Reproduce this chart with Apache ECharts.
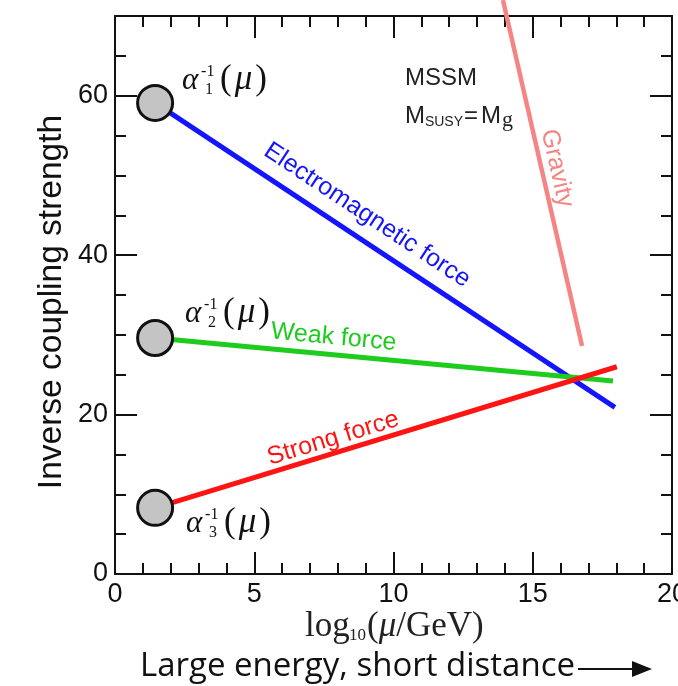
<!DOCTYPE html>
<html><head><meta charset="utf-8">
<script src="https://cdn.jsdelivr.net/npm/echarts@6/dist/echarts.min.js"></script>
<style>html,body{margin:0;padding:0;background:#fff}#main{width:678px;height:686px}</style>
</head><body><div id="main"></div>
<script>
// ---- data ----
const xTickValues = [0, 5, 10, 15, 20];
const yTickValues = [0, 20, 40, 60];
const emX = [1.44, 17.95];      const emY = [59.1, 20.9];
const weakX = [1.44, 17.88];    const weakY = [29.6, 24.2];
const strongX = [1.44, 18.02];  const strongY = [8.3, 26.0];
const gravX = [13.93, 16.77];   const gravY = [72.0, 28.6];
const circleX = [1.44, 1.44, 1.44];
const circleY = [59.1, 29.6, 8.3];
const circleSub = ['1', '2', '3'];
const forceNames = ['Electromagnetic force', 'Weak force', 'Strong force', 'Gravity'];
const forceLabelX = [9.05, 7.85, 7.83, 15.87];
const forceLabelY = [45.0, 29.7, 17.0, 50.9];

const FONT = 'Liberation Sans, Arial, sans-serif';
const SERIF = 'Liberation Serif, Times New Roman, serif';
const BLUE = '#1414ff', GREEN = '#1ecc1e', RED = '#ff1414', PINK = '#f58585', INK = '#111';

const zip = (xs, ys) => xs.map((x, i) => [x, ys[i]]);

function xAx(pos, showLabel) {
  return {
    type: 'value', min: 0, max: 20, interval: 5, position: pos,
    axisLine: { show: true, onZero: false, lineStyle: { color: INK, width: 2 } },
    axisTick: { show: true, inside: true, length: 22, lineStyle: { color: INK, width: 2 } },
    minorTick: { show: true, splitNumber: 5, length: 11, lineStyle: { color: INK, width: 2 } },
    axisLabel: { show: showLabel, fontSize: 27, color: INK, margin: 7, fontFamily: FONT,
      customValues: xTickValues, hideOverlap: false },
    splitLine: { show: false }, minorSplitLine: { show: false }
  };
}
function yAx(pos, interval, len, showLine, showLabel) {
  return {
    type: 'value', min: 0, max: 70, interval: interval, position: pos,
    axisLine: { show: showLine, onZero: false, lineStyle: { color: INK, width: 2 } },
    axisTick: { show: true, inside: true, length: len, lineStyle: { color: INK, width: 2 } },
    axisLabel: { show: showLabel, fontSize: 27, color: INK, margin: 7, fontFamily: FONT,
      customValues: yTickValues },
    splitLine: { show: false }
  };
}

const chart = echarts.init(document.getElementById('main'), null, { renderer: 'canvas' });
const option = {
  backgroundColor: '#fff',
  animation: false,
  grid: { left: 115, right: 6, top: 16, bottom: 112, containLabel: false, outerBoundsMode: 'none' },
  xAxis: [xAx('bottom', true), xAx('top', false)],
  yAxis: [
    yAx('left', 20, 22, true, true),
    yAx('left', 5, 11, false, false),
    yAx('right', 20, 22, true, false),
    yAx('right', 5, 11, false, false)
  ],
  series: [
    { type: 'line', data: zip(emX, emY), symbol: 'none', lineStyle: { color: BLUE, width: 5 }, z: 3 },
    { type: 'line', data: zip(weakX, weakY), symbol: 'none', lineStyle: { color: GREEN, width: 5 }, z: 3 },
    { type: 'line', data: zip(strongX, strongY), symbol: 'none', lineStyle: { color: RED, width: 5 }, z: 4 },
    { type: 'line', data: zip(gravX, gravY), symbol: 'none', clip: false, lineStyle: { color: PINK, width: 4.5 }, z: 2 },
    { type: 'scatter', data: zip(circleX, circleY), symbol: 'circle', symbolSize: 35,
      itemStyle: { color: '#c4c4c4', borderColor: INK, borderWidth: 3, opacity: 1 }, z: 6 }
  ]
};
chart.setOption(option);

const px = (x, y) => chart.convertToPixel({ xAxisIndex: 0, yAxisIndex: 0 }, [x, y]);
function angleOf(xs, ys) {
  const a = px(xs[0], ys[0]), b = px(xs[1], ys[1]);
  return -Math.atan2(b[1] - a[1], b[0] - a[0]);
}
const forceColors = [BLUE, GREEN, RED, PINK];
const forceAngles = [angleOf(emX, emY), angleOf(weakX, weakY), angleOf(strongX, strongY), angleOf(gravX, gravY)];

const g = [];
forceNames.forEach((t, i) => {
  const p = px(forceLabelX[i], forceLabelY[i]);
  g.push({ type: 'text', x: p[0], y: p[1], rotation: forceAngles[i], z: 10,
    style: { text: t, fill: forceColors[i], fontSize: 25, fontFamily: FONT, align: 'center', verticalAlign: 'middle' } });
});

// alpha labels
const alphaOff = [[27, -22], [30, -24], [31, 16]];
circleX.forEach((cx, i) => {
  const p = px(cx, circleY[i]);
  const ox = p[0] + alphaOff[i][0], oy = p[1] + alphaOff[i][1];
  g.push({ type: 'group', x: ox, y: oy, z: 10, children: [
    { type: 'text', x: 0, y: 0, style: { text: 'α', fill: INK, fontSize: 31, fontStyle: 'italic', fontFamily: SERIF, align: 'left', verticalAlign: 'middle' } },
    { type: 'text', x: 19, y: -9, style: { text: '-1', fill: INK, fontSize: 16, fontFamily: SERIF, align: 'left', verticalAlign: 'middle' } },
    { type: 'text', x: 23, y: 9, style: { text: circleSub[i], fill: INK, fontSize: 16, fontFamily: SERIF, align: 'left', verticalAlign: 'middle' } },
    { type: 'text', x: 35, y: -1, style: { text: '{p|(}{m|μ}{p|)}', fill: INK, align: 'left', verticalAlign: 'middle',
        rich: { p: { fontSize: 35, fontFamily: SERIF, fill: INK, padding: [0, 3, 0, 3] }, m: { fontSize: 35, fontStyle: 'italic', fontFamily: SERIF, fill: INK } } } }
  ] });
});

// MSSM annotation
const pm = px(10.41, 62.2);
g.push({ type: 'text', x: pm[0], y: pm[1], z: 10, style: { text: 'MSSM', fill: '#222', fontSize: 24, fontFamily: FONT, align: 'left', verticalAlign: 'middle' } });
const ps = px(10.41, 57.4);
g.push({ type: 'group', x: ps[0], y: ps[1], z: 10, children: [
  { type: 'text', x: 0, y: 0, style: { text: 'M', fill: '#222', fontSize: 24, fontFamily: FONT, align: 'left', verticalAlign: 'middle' } },
  { type: 'text', x: 20, y: 6, style: { text: 'SUSY', fill: '#222', fontSize: 14, fontFamily: FONT, align: 'left', verticalAlign: 'middle' } },
  { type: 'text', x: 59, y: 0, style: { text: '=', fill: '#222', fontSize: 24, fontFamily: FONT, align: 'left', verticalAlign: 'middle' } },
  { type: 'text', x: 76, y: 0, style: { text: 'M', fill: '#222', fontSize: 24, fontFamily: FONT, align: 'left', verticalAlign: 'middle' } },
  { type: 'text', x: 97, y: 4, style: { text: 'g', fill: '#222', fontSize: 22, fontFamily: SERIF, align: 'left', verticalAlign: 'middle' } }
] });

// axis names
const pa = px(0, 0), pt = px(0, 70);
g.push({ type: 'group', x: 305, y: 627, z: 10, children: [
  { type: 'text', x: 0, y: 0, style: { text: 'log', fill: '#222', fontSize: 35, fontFamily: SERIF, align: 'left', verticalAlign: 'middle' } },
  { type: 'text', x: 44, y: 9, style: { text: '10', fill: '#222', fontSize: 17, fontFamily: SERIF, align: 'left', verticalAlign: 'middle' } },
  { type: 'text', x: 62, y: 0, style: { text: '{p|(}{m|μ}{p|/GeV)}', fill: '#222', align: 'left', verticalAlign: 'middle',
      rich: { p: { fontSize: 35, fontFamily: SERIF, fill: '#222' }, m: { fontSize: 35, fontStyle: 'italic', fontFamily: SERIF, fill: '#222' } } } }
] });
g.push({ type: 'text', x: 52, y: (pa[1] + pt[1]) / 2 + 7, rotation: Math.PI / 2, z: 10,
  style: { text: 'Inverse coupling strength', fill: INK, fontSize: 33.5, fontFamily: FONT, align: 'center', verticalAlign: 'middle' } });
g.push({ type: 'text', x: 140, y: 667, z: 10,
  style: { text: 'Large energy, short distance', fill: INK, fontSize: 33, fontFamily: 'Open Sans, sans-serif', align: 'left', verticalAlign: 'middle' } });
g.push({ type: 'line', z: 10, shape: { x1: 578, y1: 669, x2: 636, y2: 669 }, style: { stroke: INK, lineWidth: 2 } });
g.push({ type: 'polygon', z: 10, shape: { points: [[632, 661], [652, 669], [632, 677]] }, style: { fill: INK } });

chart.setOption({ graphic: g });
</script></body></html>
